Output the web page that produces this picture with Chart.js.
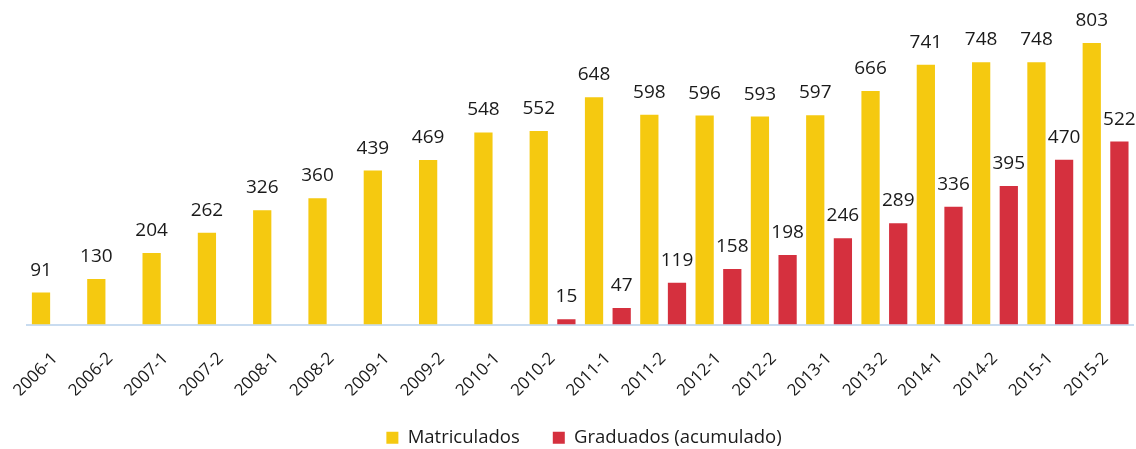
<!DOCTYPE html>
<html>
<head>
<meta charset="utf-8">
<script src="https://cdn.jsdelivr.net/npm/chart.js@4.4.1/dist/chart.umd.min.js"></script>
<style>
  html, body { margin: 0; padding: 0; background: #fff; }
  #wrap { width: 1136px; height: 449px; position: relative; }
</style>
</head>
<body>
<div id="wrap"><canvas id="c"></canvas></div>
<script>
const categories = ["2006-1","2006-2","2007-1","2007-2","2008-1","2008-2","2009-1","2009-2","2010-1","2010-2","2011-1","2011-2","2012-1","2012-2","2013-1","2013-2","2014-1","2014-2","2015-1","2015-2"];
const matriculados = [91,130,204,262,326,360,439,469,548,552,648,598,596,593,597,666,741,748,748,803];
const graduados = [null,null,null,null,null,null,null,null,null,15,47,119,158,198,246,289,336,395,470,522];
const seriesNames = ["Matriculados", "Graduados (acumulado)"];

const FONT = "'Open Sans', 'DejaVu Sans', sans-serif";

const valueLabels = {
  id: 'valueLabels',
  afterDatasetsDraw(chart) {
    const ctx = chart.ctx;
    ctx.save();
    ctx.font = "19px " + FONT;
    ctx.fillStyle = "#1a1a1a";
    ctx.textAlign = "center";
    ctx.textBaseline = "alphabetic";
    chart.data.datasets.forEach((ds, i) => {
      const meta = chart.getDatasetMeta(i);
      meta.data.forEach((bar, j) => {
        const v = ds.data[j];
        if (v === null || v === undefined) return;
        ctx.fillText(String(v), bar.x, bar.y - 17);
      });
    });
    ctx.restore();
  }
};

new Chart(document.getElementById('c'), {
  type: 'bar',
  data: {
    labels: categories,
    datasets: [
      { label: seriesNames[0], data: matriculados, backgroundColor: '#F5C910', categoryPercentage: 1.0, barPercentage: 0.66 },
      { label: seriesNames[1], data: graduados, backgroundColor: '#D5303E', categoryPercentage: 1.0, barPercentage: 0.66 }
    ]
  },
  options: {
    responsive: true,
    maintainAspectRatio: false,
    animation: false,
    layout: { padding: { top: 9, left: 27, right: -5, bottom: -8 } },
    plugins: {
      legend: {
        position: 'bottom',
        labels: { font: { family: FONT, size: 18.5 }, color: '#1a1a1a', boxWidth: 12, boxHeight: 12, padding: 33 }
      },
      tooltip: { enabled: false }
    },
    scales: {
      x: {
        grid: { display: false },
        border: { display: true, color: '#C9DCF0', width: 2 },
        ticks: { font: { family: FONT, size: 17 }, color: '#1a1a1a', maxRotation: 45, minRotation: 45, padding: 16 },
        afterFit(scale) { scale.height = 71; }
      },
      y: {
        display: false,
        min: 0,
        max: 900
      }
    }
  },
  plugins: [valueLabels]
});
</script>
</body>
</html>
